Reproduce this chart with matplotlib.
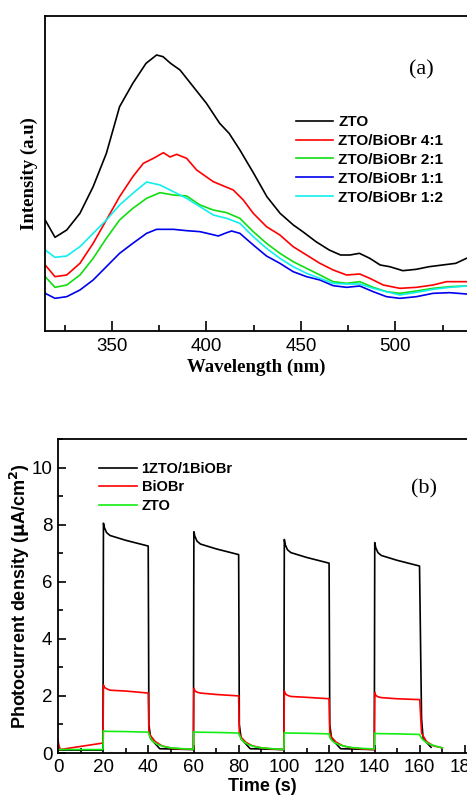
import matplotlib
matplotlib.use("Agg")
import matplotlib.pyplot as plt
from matplotlib.ticker import MultipleLocator

# ---- panel (a): PL spectra (intensity in arbitrary units) ----
zto_wl = [314.6, 319.8, 326, 333, 340, 347, 354, 361, 368, 373.6, 377, 381, 386, 393, 400, 407, 412,
          417.7, 425, 432, 439, 446, 451, 458, 465, 471, 476, 481, 486.5, 492, 497, 504, 511, 518, 525,
          532, 537.7]
zto_int = [333, 281, 303, 353, 433, 533, 673, 743, 803, 828, 823, 803, 783, 733, 683, 623, 593,
           543, 473, 403, 353, 318, 298, 268, 243, 228, 228, 233, 218, 198, 193, 181, 185, 193, 198,
           203, 218]

r41_wl = [314.6, 319.8, 326, 333, 340, 347, 354, 361, 366.6, 371.9, 377.2, 380.7, 384.2, 389.5, 394.8,
          403.6, 414.2, 419.5, 424.8, 431.8, 438.9, 445.9, 453, 460.1, 467.1, 474.2, 481.2, 486.5, 493.6,
          502.4, 511.2, 520, 527.1, 537.7]
r41_int = [198, 163, 168, 203, 263, 333, 403, 463, 503, 518, 535, 522, 530, 518, 483,
           448, 423, 393, 353, 313, 288, 253, 228, 203, 183, 168, 171, 158, 138,
           128, 131, 138, 148, 148]

r21_wl = [314.6, 319.8, 326, 333, 340, 347, 354, 361, 368.3, 375.4, 382.5, 389.5, 396.6, 403.6, 410.7,
          417.7, 424.8, 431.8, 438.9, 445.9, 453, 460.1, 467.1, 474.2, 481.2, 488.3, 495.3, 502.4, 511.2,
          520, 528.8, 537.7]
r21_int = [163, 131, 138, 168, 218, 278, 333, 368, 398, 415, 408, 405, 378, 363, 355,
           338, 298, 263, 233, 208, 188, 168, 148, 143, 148, 131, 118, 113, 120,
           128, 133, 135]

r11_wl = [314.6, 319.8, 326, 333, 340, 347, 354, 361, 368.3, 373.6, 382.5, 389.5, 396.6, 401.9, 406.3,
          409.8, 413.3, 417.7, 424.8, 431.8, 438.9, 445.9, 453, 460.1, 467.1, 474.2, 481.2, 488.3, 495.3,
          502.4, 511.2, 520, 528.8, 537.7]
r11_int = [113, 98, 103, 123, 153, 193, 233, 263, 293, 305, 305, 301, 298, 291, 285,
           293, 300, 293, 258, 225, 203, 178, 163, 153, 136, 131, 135, 118, 103,
           98, 103, 113, 115, 111]

r12_wl = [314.6, 319.8, 326, 333, 340, 347, 354, 361, 368.3, 375.4, 382.5, 389.5, 396.6, 403.6, 410.7,
          417.7, 424.8, 431.8, 438.9, 445.9, 453, 460.1, 467.1, 474.2, 481.2, 488.3, 495.3, 502.4, 511.2,
          520, 528.8, 537.7]
r12_int = [243, 221, 225, 253, 293, 333, 378, 413, 447, 438, 418, 398, 373, 348, 338,
           323, 283, 248, 218, 193, 173, 158, 143, 141, 141, 128, 118, 108, 116,
           125, 131, 135]

pl_labels = ["ZTO", "ZTO/BiOBr 4:1", "ZTO/BiOBr 2:1", "ZTO/BiOBr 1:1", "ZTO/BiOBr 1:2"]
pl_colors = ["black", "#ff0000", "#11dd11", "#0000ee", "#11eeee"]

# ---- panel (b): photocurrent transients ----
cz_t = [0, 19.9, 20.1, 20.5, 21.5, 23, 30, 39.9, 40.2, 41, 45, 59.9,
        60.1, 60.5, 61.5, 63, 70, 79.9, 80.2, 81, 85, 99.9,
        100.1, 100.5, 101.5, 103, 110, 119.9, 120.2, 121, 125, 139.9,
        140.1, 140.5, 141.5, 143, 150, 159.9, 160.8, 161.5, 165]
cz_j = [0.1, 0.1, 8.05, 7.9, 7.72, 7.62, 7.45, 7.25, 1.0, 0.5, 0.15, 0.12,
        7.75, 7.6, 7.42, 7.32, 7.15, 6.95, 1.0, 0.5, 0.15, 0.12,
        7.48, 7.3, 7.12, 7.02, 6.85, 6.65, 1.0, 0.5, 0.15, 0.12,
        7.37, 7.2, 7.02, 6.92, 6.75, 6.55, 1.2, 0.5, 0.2]

bi_t = [0, 0.3, 1, 5, 10, 15, 19.9, 20.1, 20.5, 21.5, 23, 30, 39.9,
        40.2, 41, 43, 46, 50, 55, 59.9,
        60.1, 60.5, 61.5, 63, 70, 79.9,
        80.2, 81, 83, 86, 90, 95, 99.9,
        100.1, 100.5, 101.5, 103, 110, 119.9,
        120.2, 121, 123, 126, 130, 135, 139.9,
        140.1, 140.5, 141.5, 143, 150, 160,
        160.8, 161.5, 163, 166, 170]
bi_j = [0.45, 0.3, 0.12, 0.17, 0.23, 0.29, 0.35, 2.38, 2.3, 2.25, 2.2, 2.17, 2.1,
        0.75, 0.6, 0.4, 0.25, 0.17, 0.14, 0.13,
        2.27, 2.18, 2.13, 2.1, 2.05, 2.0,
        0.7, 0.55, 0.38, 0.25, 0.18, 0.14, 0.12,
        2.17, 2.08, 2.02, 1.98, 1.95, 1.9,
        0.7, 0.55, 0.38, 0.25, 0.18, 0.14, 0.12,
        2.12, 2.02, 1.97, 1.94, 1.9, 1.87,
        0.7, 0.6, 0.4, 0.25, 0.18]

zo_t = [0, 19.9, 20.1, 21, 30, 39.9,
        40.2, 41, 42, 44, 47, 50, 55, 59.9,
        60.1, 61, 70, 79.9,
        80.2, 81, 82, 84, 87, 90, 95, 99.9,
        100.1, 101, 110, 119.9,
        120.2, 121, 122, 124, 127, 130, 135, 139.9,
        140.1, 141, 150, 159.9,
        160.2, 161, 162, 164, 167, 170]
zo_j = [0.12, 0.12, 0.78, 0.76, 0.75, 0.73,
        0.65, 0.5, 0.4, 0.3, 0.22, 0.18, 0.15, 0.13,
        0.75, 0.73, 0.72, 0.7,
        0.62, 0.5, 0.4, 0.3, 0.22, 0.18, 0.15, 0.12,
        0.72, 0.7, 0.69, 0.67,
        0.55, 0.45, 0.38, 0.3, 0.23, 0.19, 0.16, 0.14,
        0.7, 0.68, 0.67, 0.65,
        0.6, 0.5, 0.42, 0.32, 0.24, 0.18]

pc_labels = ["1ZTO/1BiOBr", "BiOBr", "ZTO"]
pc_colors = ["black", "#ff0000", "#11ee11"]

sans = "Liberation Sans"
serif = "Liberation Serif"

fig = plt.figure(figsize=(4.67, 7.96), dpi=100)

# panel (a)
ax1 = fig.add_axes([45 / 467, 465 / 796, 423 / 467, 315 / 796])
pl_data = [(zto_wl, zto_int), (r41_wl, r41_int), (r21_wl, r21_int), (r11_wl, r11_int), (r12_wl, r12_int)]
for (wl, inten), lab, col in zip(pl_data, pl_labels, pl_colors):
    ax1.plot(wl, inten, color=col, lw=1.2, label=lab)
ax1.set_xlim(314.5, 538.5)
ax1.set_ylim(0, 945)
ax1.xaxis.set_major_locator(MultipleLocator(50))
ax1.xaxis.set_minor_locator(MultipleLocator(25))
ax1.set_yticks([])
ax1.tick_params(axis="x", which="major", direction="in", length=7, width=1.2,
                labelsize=13.5, pad=5, top=False)
ax1.tick_params(axis="x", which="minor", direction="in", length=4, width=1.2, top=False)
for lab in ax1.get_xticklabels():
    lab.set_fontfamily(sans)
for sp in ax1.spines.values():
    sp.set_linewidth(1.3)
ax1.spines["right"].set_visible(False)
ax1.set_xlabel("Wavelength (nm)", fontfamily=serif, fontweight="bold", fontsize=13.5, labelpad=3)
ax1.set_ylabel("Intensity (a.u)", fontfamily=serif, fontweight="bold", fontsize=13.5, labelpad=5)
ax1.text(0.89, 0.83, "(a)", transform=ax1.transAxes, fontfamily=serif, fontsize=16,
         ha="center", va="center")
ax1.legend(loc="upper left", bbox_to_anchor=(0.58, 0.705), frameon=False,
           prop={"family": sans, "weight": "bold", "size": 11},
           handlelength=2.4, handletextpad=0.35, labelspacing=0.32, borderaxespad=0)

# panel (b)
ax2 = fig.add_axes([58 / 467, 43 / 796, 409 / 467, 314 / 796])
pc_data = [(cz_t, cz_j), (bi_t, bi_j), (zo_t, zo_j)]
for (t, j), lab, col in zip(pc_data, pc_labels, pc_colors):
    ax2.plot(t, j, color=col, lw=1.2, label=lab)
ax2.set_xlim(0, 180.9)
ax2.set_ylim(0, 11)
ax2.xaxis.set_major_locator(MultipleLocator(20))
ax2.xaxis.set_minor_locator(MultipleLocator(10))
ax2.yaxis.set_major_locator(MultipleLocator(2))
ax2.yaxis.set_minor_locator(MultipleLocator(1))
ax2.tick_params(which="major", direction="in", length=6, width=1.2, labelsize=13.5, pad=4,
                top=False, right=False)
ax2.tick_params(which="minor", direction="in", length=3.5, width=1.2, top=False, right=False)
for lab in ax2.get_xticklabels() + ax2.get_yticklabels():
    lab.set_fontfamily(sans)
for sp in ax2.spines.values():
    sp.set_linewidth(1.3)
ax2.spines["right"].set_visible(False)
ax2.set_xlabel("Time (s)", fontfamily=sans, fontweight="bold", fontsize=13, labelpad=1.5)
ax2.set_ylabel(r"Photocurrent density ($\mathbf{\mu}$A/cm$^\mathbf{2}$)", fontfamily=sans,
               fontweight="bold", fontsize=13, labelpad=0)
ax2.text(0.895, 0.84, "(b)", transform=ax2.transAxes, fontfamily=serif, fontsize=16,
         ha="center", va="center")
ax2.legend(loc="upper left", bbox_to_anchor=(0.085, 0.945), frameon=False,
           prop={"family": sans, "weight": "bold", "size": 10.5},
           handlelength=2.6, handletextpad=0.35, labelspacing=0.3, borderaxespad=0)

fig.savefig("out.png", dpi=100)
